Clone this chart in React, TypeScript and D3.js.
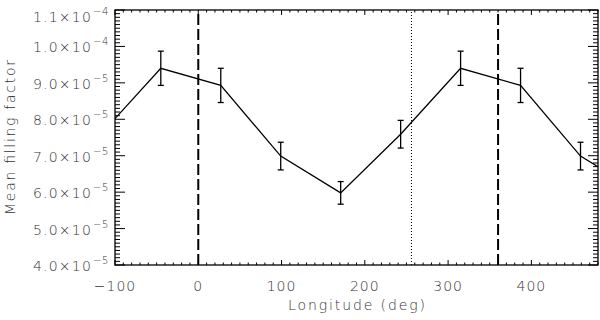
import React from 'react';
import * as d3 from 'd3';

// longitudes of the plotted points (deg), the pattern repeats every 360
const longitudes = [-117, -45, 27, 99, 171, 243, 315, 387, 459, 531];
// mean filling factor, in units of 1e-5
const fillValues = [7.59, 9.40, 8.93, 6.99, 5.98, 7.59, 9.40, 8.93, 6.99, 5.98];
const fillErrors = [0.38, 0.47, 0.47, 0.38, 0.31, 0.38, 0.47, 0.47, 0.38, 0.31];

const xTicks = [-100, 0, 100, 200, 300, 400];
const yTicks = [4, 5, 6, 7, 8, 9, 10, 11];
const yTickMantissa = ['4.0', '5.0', '6.0', '7.0', '8.0', '9.0', '1.0', '1.1'];
const yTickExp = ['−5', '−5', '−5', '−5', '−5', '−5', '−4', '−4'];
const dashedLons = [0, 360];
const dottedLon = 256;

const W = 600;
const H = 320;
const m = { left: 115, right: 2, top: 10, bottom: 55 };
const FONT = '"DejaVu Sans", sans-serif';
const TXT = '#333';

const App = () => {
    const x = d3.scaleLinear().domain([-100, 480]).range([m.left, W - m.right]);
    const y = d3.scaleLinear().domain([4, 11]).range([H - m.bottom, m.top]);
    const [x0, x1] = x.range();
    const [y0, y1] = y.range(); // y0 bottom, y1 top

    const pts = longitudes.map((lon, i) => ({ lon, v: fillValues[i], e: fillErrors[i] }));
    const line = d3.line<any>().x(d => x(d.lon)).y(d => y(d.v));

    const xMinor = d3.range(-100, 481, 10);
    const yMinor = d3.range(40, 111, 1).map(v => v / 10);

    return (
        <svg width={W} height={H} style={{ position: 'absolute', left: 0, top: 0, background: '#fff' }}>
            <defs>
                <clipPath id="plot">
                    <rect x={x0} y={y1} width={x1 - x0} height={y0 - y1} />
                </clipPath>
            </defs>

            {/* x ticks, bottom and top, pointing inward */}
            {xMinor.map(t => {
                const len = t % 100 === 0 ? 5 : 2.5;
                return (
                    <g key={'xt' + t} stroke="#000" strokeWidth={1}>
                        <line x1={x(t)} x2={x(t)} y1={y0} y2={y0 - len} />
                        <line x1={x(t)} x2={x(t)} y1={y1} y2={y1 + len} />
                    </g>
                );
            })}
            {/* y ticks, left and right */}
            {yMinor.map(t => {
                const major = Math.abs(t - Math.round(t)) < 1e-6;
                const len = major ? 10 : 5;
                return (
                    <g key={'yt' + t} stroke="#000" strokeWidth={1}>
                        <line x1={x0} x2={x0 + len} y1={y(t)} y2={y(t)} />
                        <line x1={x1} x2={x1 - len} y1={y(t)} y2={y(t)} />
                    </g>
                );
            })}

            <g clipPath="url(#plot)">
                {dashedLons.map(l => (
                    <line key={'d' + l} x1={x(l)} x2={x(l)} y1={y0} y2={y1}
                        stroke="#000" strokeWidth={2} strokeDasharray="11,4" />
                ))}
                <line x1={x(dottedLon)} x2={x(dottedLon)} y1={y0} y2={y1}
                    stroke="#000" strokeWidth={1} strokeDasharray="1,2" />

                <path d={line(pts) || ''} fill="none" stroke="#000" strokeWidth={1.3} />
                {pts.map((p, i) => (
                    <g key={'e' + i} stroke="#000" strokeWidth={1.3}>
                        <line x1={x(p.lon)} x2={x(p.lon)} y1={y(p.v - p.e)} y2={y(p.v + p.e)} />
                        <line x1={x(p.lon) - 3} x2={x(p.lon) + 3} y1={y(p.v - p.e)} y2={y(p.v - p.e)} />
                        <line x1={x(p.lon) - 3} x2={x(p.lon) + 3} y1={y(p.v + p.e)} y2={y(p.v + p.e)} />
                    </g>
                ))}
            </g>

            <rect x={x0} y={y1} width={x1 - x0} height={y0 - y1} fill="none" stroke="#000" strokeWidth={1.3} />

            {/* x tick labels */}
            {xTicks.map(t => (
                <text key={'xl' + t} x={x(t)} y={y0 + 26} textAnchor="middle"
                    fontFamily={FONT} fontWeight={300} fontSize={14} fill={TXT} letterSpacing={1}>
                    {t < 0 ? '−' + Math.abs(t) : String(t)}
                </text>
            ))}

            {/* y tick labels */}
            {yTicks.map((t, i) => {
                const base = Math.max(y(t) + 6, y1 + 11.5);
                return (
                    <g key={'yl' + t} fontFamily={FONT} fontWeight={300} fill={TXT}>
                        <text x={92} y={base} textAnchor="end" fontSize={14} letterSpacing={1.2}>
                            {yTickMantissa[i] + '×10'}
                        </text>
                        <text x={93} y={base - 7} fontSize={10} letterSpacing={0.5}>
                            {yTickExp[i]}
                        </text>
                    </g>
                );
            })}

            <text x={(x0 + x1) / 2} y={310} textAnchor="middle" fontFamily={FONT} fontWeight={300}
                fontSize={14} fill={TXT} textLength={137} lengthAdjust="spacing">
                Longitude (deg)
            </text>
            <text transform={`translate(15,${(y0 + y1) / 2}) rotate(-90)`} textAnchor="middle"
                fontFamily={FONT} fontWeight={300} fontSize={14} fill={TXT}
                textLength={155} lengthAdjust="spacing">
                Mean filling factor
            </text>
        </svg>
    );
};

export default App;
